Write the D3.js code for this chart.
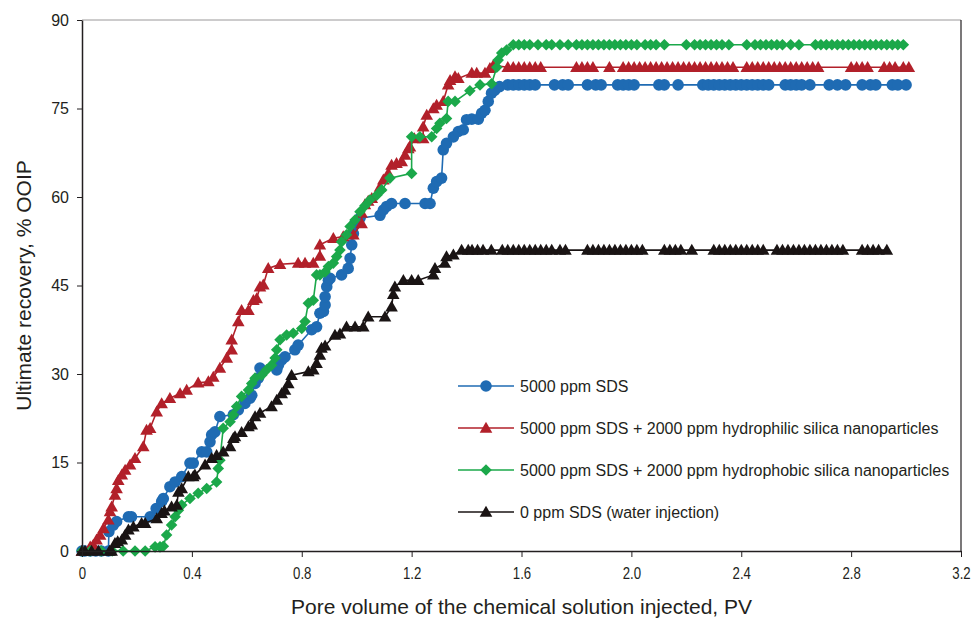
<!DOCTYPE html>
<html>
<head>
<meta charset="utf-8">
<script src="https://cdn.jsdelivr.net/npm/d3@7/dist/d3.min.js"></script>
<style>
  body { margin: 0; background: #fff; }
  text { font-family: "Liberation Sans", Arial, sans-serif; fill: #231f20; }
</style>
</head>
<body>
<svg id="chart" width="975" height="619"></svg>
<script>
// tick values and labels
const xTicks = [0, 0.4, 0.8, 1.2, 1.6, 2.0, 2.4, 2.8, 3.2];
const xTickLabels = ["0", "0.4", "0.8", "1.2", "1.6", "2.0", "2.4", "2.8", "3.2"];
const yTicks = [0, 15, 30, 45, 60, 75, 90];

const seriesNames = [
  "5000 ppm SDS",
  "5000 ppm SDS + 2000 ppm hydrophilic silica nanoparticles",
  "5000 ppm SDS + 2000 ppm hydrophobic silica nanoparticles",
  "0 ppm SDS (water injection)"
];

// [PV injected, recovery % OOIP]
const sds = [
  [0,0],[0.01,0],[0.03,0],[0.05,0],[0.07,0],[0.096,0],[0.098,3.3],[0.114,4.4],[0.126,5],[0.169,5.8],[0.18,5.8],[0.248,5.8],
  [0.27,7.2],[0.29,8.4],[0.296,8.9],[0.32,10.9],[0.339,11.7],[0.363,12.6],[0.393,14.9],[0.405,14.9],[0.436,16.8],[0.454,16.8],
  [0.466,18.5],[0.472,19.7],[0.484,20.2],[0.502,22.8],[0.551,23.1],[0.569,23.9],[0.593,25],[0.612,25.9],[0.618,26.4],[0.63,28.4],
  [0.642,29.3],[0.648,31],[0.709,30.7],[0.715,31.5],[0.727,32.4],[0.739,32.9],[0.775,34.1],[0.787,34.9],[0.836,37.5],[0.854,38],
  [0.866,40.3],[0.879,40.6],[0.885,41.7],[0.885,43.1],[0.891,44.8],[0.897,45.9],[0.903,46.2],[0.945,46.8],[0.969,47.9],[0.976,49.6],
  [0.982,51.9],[0.988,53.8],[0.994,55.5],[1.012,56.4],[1.085,56.9],[1.097,57.8],[1.109,58.4],[1.127,58.9],[1.176,58.9],[1.249,58.9],
  [1.267,58.9],[1.279,61.5],[1.291,62.6],[1.309,63.2],[1.315,68],[1.327,69.1],[1.352,70.2],[1.37,71.1],[1.388,71.4],[1.40,73.1],
  [1.419,73.2],[1.443,73.2],[1.455,74.2],[1.467,74.7],[1.479,76.2],[1.491,77.6],[1.503,78.1],[1.52,78.7],[1.55,79],
  [1.57,79],[1.59,79],[1.61,79],[1.63,79],[1.65,79],[1.72,79],[1.75,79],[1.77,79],[1.84,79],[1.87,79],[1.89,79],
  [1.95,79],[1.97,79],[1.99,79],[2.01,79],[2.10,79],[2.12,79],[2.17,79],[2.26,79],[2.28,79],[2.30,79],[2.32,79],[2.34,79],
  [2.36,79],[2.38,79],[2.40,79],[2.42,79],[2.44,79],[2.46,79],[2.48,79],[2.50,79],[2.56,79],[2.58,79],[2.60,79],[2.62,79],
  [2.65,79],[2.72,79],[2.75,79],[2.78,79],[2.84,79],[2.87,79],[2.89,79],[2.95,79],[2.97,79],[3.00,79]
];

const hydrophilic = [
  [0,0],[0.03,0.7],[0.041,1],[0.053,1.9],[0.066,2.7],[0.078,3.8],[0.096,5.3],[0.102,6.7],[0.108,7.5],[0.12,9.5],[0.126,10.6],
  [0.132,12],[0.145,12.9],[0.157,13.7],[0.175,14.6],[0.193,15.7],[0.223,17.7],[0.235,20.5],[0.248,20.8],[0.272,23.6],[0.29,25],
  [0.32,25.9],[0.357,26.7],[0.381,27.3],[0.423,28.5],[0.46,28.7],[0.478,29.5],[0.502,31],[0.527,32.7],[0.545,34.1],[0.545,35.8],
  [0.569,38.9],[0.581,40.8],[0.606,40.8],[0.624,42.5],[0.636,42.8],[0.648,44.8],[0.66,45.1],[0.678,47.9],[0.721,48.6],[0.787,48.8],
  [0.812,48.8],[0.842,48.8],[0.866,50],[0.866,51.9],[0.915,53],[0.951,53.3],[0.988,53.6],[1.018,55.5],[1.018,57.3],[1.03,58.7],
  [1.042,59.3],[1.055,59.8],[1.085,61.7],[1.097,62.9],[1.115,64],[1.127,65.4],[1.145,65.7],[1.164,66],[1.176,67.1],[1.188,68.2],
  [1.194,68.5],[1.21,69.9],[1.242,69.9],[1.242,71.9],[1.255,73.9],[1.279,75],[1.291,75.6],[1.315,76.2],[1.333,79],[1.34,79.8],
  [1.358,80.4],[1.37,80.1],[1.419,81],[1.437,81],[1.467,81],[1.485,81.8],[1.497,82.3],
  [1.55,82],[1.57,82],[1.59,82],[1.61,82],[1.63,82],[1.65,82],[1.67,82],[1.80,82],[1.82,82],[1.84,82],[1.86,82],[1.92,82],
  [1.97,82],[1.99,82],[2.01,82],[2.03,82],[2.05,82],[2.07,82],[2.09,82],[2.11,82],[2.13,82],[2.15,82],[2.17,82],[2.19,82],
  [2.21,82],[2.23,82],[2.25,82],[2.27,82],[2.29,82],[2.31,82],[2.33,82],[2.35,82],[2.37,82],[2.42,82],[2.44,82],[2.46,82],
  [2.48,82],[2.50,82],[2.52,82],[2.54,82],[2.56,82],[2.58,82],[2.60,82],[2.62,82],[2.64,82],[2.66,82],[2.68,82],[2.80,82],
  [2.82,82],[2.84,82],[2.86,82],[2.92,82],[2.94,82],[2.96,82],[2.99,82],[3.01,82]
];

const hydrophobic = [
  [0,0],[0.03,0],[0.07,0],[0.11,0],[0.15,0],[0.193,0],[0.23,0],[0.266,0.7],[0.284,0.7],[0.296,0.8],[0.308,2.7],[0.326,4.4],
  [0.339,5.8],[0.351,6.9],[0.363,7.8],[0.393,8.9],[0.423,9.8],[0.454,10.6],[0.49,11.7],[0.496,14],[0.502,15.4],[0.514,20.8],
  [0.539,21.9],[0.551,23.1],[0.563,24.5],[0.581,26.2],[0.606,27.3],[0.618,28.4],[0.63,29.3],[0.654,29.8],[0.672,30.7],[0.69,31.5],
  [0.703,32.7],[0.709,34.1],[0.721,35.8],[0.745,36.6],[0.769,36.9],[0.8,37.7],[0.812,38.9],[0.824,42],[0.842,42.5],[0.854,46.8],
  [0.866,46.8],[0.885,47.3],[0.897,48.2],[0.915,48.8],[0.927,49.9],[0.939,51],[0.945,52.4],[0.963,53.6],[0.976,55],[0.994,56.1],
  [1.012,57.5],[1.03,58.5],[1.048,59.5],[1.073,60.3],[1.091,61.2],[1.121,63.2],[1.2,64],[1.2,70.2],[1.23,70.2],[1.273,70.2],
  [1.291,71.6],[1.303,72.5],[1.327,73.3],[1.333,76.2],[1.358,76.2],[1.412,78],[1.449,79],[1.491,79.2],[1.51,82],[1.515,83.2],
  [1.528,84.4],[1.546,84.9],
  [1.57,85.8],[1.59,85.8],[1.61,85.8],[1.63,85.8],[1.66,85.8],[1.69,85.8],[1.71,85.8],[1.74,85.8],[1.77,85.8],[1.80,85.8],
  [1.82,85.8],[1.84,85.8],[1.86,85.8],[1.88,85.8],[1.90,85.8],[1.92,85.8],[1.94,85.8],[1.96,85.8],[1.98,85.8],[2.00,85.8],
  [2.02,85.8],[2.05,85.8],[2.07,85.8],[2.09,85.8],[2.12,85.8],[2.20,85.8],[2.23,85.8],[2.25,85.8],[2.27,85.8],[2.29,85.8],
  [2.31,85.8],[2.33,85.8],[2.355,85.8],[2.42,85.8],[2.45,85.8],[2.47,85.8],[2.49,85.8],[2.51,85.8],[2.53,85.8],[2.55,85.8],
  [2.58,85.8],[2.61,85.8],[2.67,85.8],[2.69,85.8],[2.71,85.8],[2.73,85.8],[2.75,85.8],[2.77,85.8],[2.79,85.8],[2.81,85.8],
  [2.83,85.8],[2.85,85.8],[2.87,85.8],[2.89,85.8],[2.91,85.8],[2.93,85.8],[2.95,85.8],[2.97,85.8],[2.99,85.8]
];

const water = [
  [0,0],[0.011,0],[0.035,0],[0.06,0],[0.1,0],[0.108,0],[0.12,1.3],[0.13,1.6],[0.145,1.9],[0.157,2.7],[0.169,3.6],[0.187,4.1],
  [0.217,4.7],[0.23,4.7],[0.272,5.5],[0.29,6.4],[0.3,6.8],[0.326,7.5],[0.345,7.8],[0.351,10],[0.363,10.6],[0.387,12.6],
  [0.405,12.6],[0.411,12.9],[0.448,14.6],[0.472,15.7],[0.49,16.2],[0.514,16.8],[0.539,17.7],[0.551,19.1],[0.557,19.4],[0.581,20.1],
  [0.606,21.1],[0.618,21.4],[0.63,22.8],[0.648,23.4],[0.69,24.5],[0.709,25.6],[0.727,26.7],[0.739,27.3],[0.751,28.4],[0.763,29.8],
  [0.824,30.4],[0.842,30.7],[0.854,31.8],[0.866,33.2],[0.872,34.4],[0.885,34.8],[0.921,36.6],[0.939,36.8],[0.963,38],[0.994,38],
  [1.024,38],[1.042,39.7],[1.103,39.7],[1.127,41.4],[1.133,43.5],[1.139,44.8],[1.17,45.9],[1.2,45.9],[1.224,45.9],[1.279,46.8],
  [1.285,47.9],[1.321,48.8],[1.327,49.9],[1.352,50.2],[1.382,51],[1.406,51],
  [1.42,51],[1.44,51],[1.46,51],[1.49,51],[1.53,51],[1.55,51],[1.57,51],[1.59,51],[1.61,51],[1.63,51],[1.65,51],[1.67,51],
  [1.69,51],[1.71,51],[1.74,51],[1.76,51],[1.84,51],[1.86,51],[1.88,51],[1.90,51],[1.92,51],[1.94,51],[1.96,51],[1.98,51],
  [2.00,51],[2.02,51],[2.04,51],[2.12,51],[2.14,51],[2.16,51],[2.18,51],[2.22,51],[2.30,51],[2.32,51],[2.34,51],[2.36,51],
  [2.38,51],[2.40,51],[2.42,51],[2.44,51],[2.46,51],[2.48,51],[2.53,51],[2.55,51],[2.57,51],[2.59,51],[2.61,51],[2.63,51],
  [2.65,51],[2.67,51],[2.69,51],[2.71,51],[2.73,51],[2.75,51],[2.77,51],[2.84,51],[2.86,51],[2.88,51],[2.90,51],[2.93,51]
];

const colors = ["#1f6bb3", "#b2202a", "#1ba84a", "#1a1414"];
const shapes = ["circle", "triangle", "diamond", "triangle"];

const series = [sds, hydrophilic, hydrophobic, water].map((data, i) => ({
  name: seriesNames[i],
  color: colors[i],
  shape: shapes[i],
  points: data.map(d => ({ x: d[0], y: d[1] }))
}));

const width = 975, height = 619;
const margin = { top: 20, right: 14, bottom: 68, left: 82 };

const svg = d3.select("#chart");

const x = d3.scaleLinear().domain([0, 3.2]).range([margin.left, width - margin.right]);
const y = d3.scaleLinear().domain([0, 90]).range([height - margin.bottom, margin.top]);

// frame: light top edge, dark right edge
svg.append("line")
  .attr("x1", x(0)).attr("x2", x(3.2)).attr("y1", y(90)).attr("y2", y(90))
  .attr("stroke", "#9a9899").attr("stroke-width", 1);
svg.append("line")
  .attr("x1", x(3.2)).attr("x2", x(3.2)).attr("y1", y(90)).attr("y2", y(0))
  .attr("stroke", "#231f20").attr("stroke-width", 1.2);

function markerPath(shape, cx, cy) {
  if (shape === "circle") {
    const r = 5.8;
    return `M${cx + r},${cy}A${r},${r} 0 1,1 ${cx - r},${cy}A${r},${r} 0 1,1 ${cx + r},${cy}Z`;
  }
  if (shape === "triangle") {
    return `M${cx},${cy - 6.3}L${cx + 6.3},${cy + 4.7}L${cx - 6.3},${cy + 4.7}Z`;
  }
  // diamond
  return `M${cx},${cy - 5.8}L${cx + 5.8},${cy}L${cx},${cy + 5.8}L${cx - 5.8},${cy}Z`;
}

const line = d3.line().x(d => x(d.x)).y(d => y(d.y));

const plot = svg.append("g");

series.forEach(s => {
  const g = plot.append("g");
  g.append("path")
    .datum(s.points)
    .attr("d", line)
    .attr("fill", "none")
    .attr("stroke", s.color)
    .attr("stroke-width", 1.6);
  g.selectAll("path.m")
    .data(s.points)
    .enter().append("path")
    .attr("class", "m")
    .attr("d", d => markerPath(s.shape, x(d.x), y(d.y)))
    .attr("fill", s.color);
});

// axes
const xAxis = svg.append("g")
  .attr("transform", `translate(0,${y(0)})`)
  .call(d3.axisBottom(x).tickValues(xTicks).tickFormat((d, i) => xTickLabels[i]).tickSizeInner(6).tickSizeOuter(0).tickPadding(10));
xAxis.select(".domain").attr("stroke", "#231f20").attr("stroke-width", 1.5);
xAxis.selectAll(".tick line").attr("stroke", "#231f20");
// condensed look of the x tick labels
xAxis.selectAll("text")
  .attr("font-size", 16.5)
  .attr("fill", "#231f20")
  .attr("transform", "scale(0.8,1)");

const yAxis = svg.append("g")
  .attr("transform", `translate(${x(0)},0)`)
  .call(d3.axisLeft(y).tickValues(yTicks).tickSizeInner(5).tickSizeOuter(0).tickPadding(8));
yAxis.select(".domain").attr("stroke", "#231f20").attr("stroke-width", 1.5);
yAxis.selectAll(".tick line").attr("stroke", "#231f20");
yAxis.selectAll("text").attr("font-size", 16).attr("fill", "#231f20");

// axis titles
svg.append("text")
  .attr("x", (x(0) + x(3.2)) / 2)
  .attr("y", 614)
  .attr("text-anchor", "middle")
  .attr("font-size", 21)
  .text("Pore volume of the chemical solution injected, PV");

svg.append("text")
  .attr("transform", `translate(31,${(y(0) + y(90)) / 2}) rotate(-90)`)
  .attr("text-anchor", "middle")
  .attr("font-size", 21)
  .text("Ultimate recovery, % OOIP");

// legend
const legend = svg.append("g").attr("transform", "translate(458,386)");
series.forEach((s, i) => {
  const row = legend.append("g").attr("transform", `translate(0,${i * 42})`);
  row.append("line")
    .attr("x1", 0).attr("x2", 56).attr("y1", 0).attr("y2", 0)
    .attr("stroke", s.color).attr("stroke-width", 1.6);
  row.append("path")
    .attr("d", markerPath(s.shape, 28, 0))
    .attr("fill", s.color);
  row.append("text")
    .attr("x", 62).attr("y", 6)
    .attr("font-size", 16)
    .text(s.name);
});
</script>
</body>
</html>
